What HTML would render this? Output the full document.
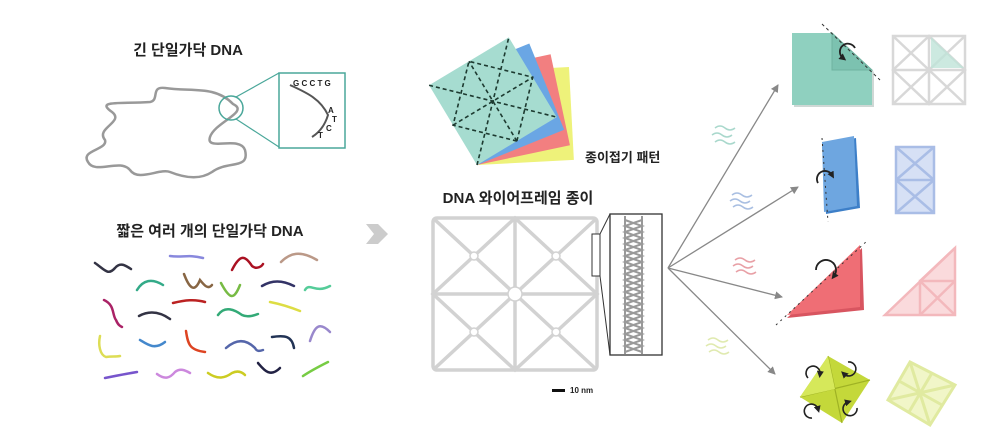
<!DOCTYPE html>
<html><head><meta charset="utf-8">
<style>
html,body{margin:0;padding:0;background:#fff;}
svg{display:block}
text{font-family:"Liberation Sans","Noto Sans CJK KR",sans-serif;font-weight:bold;fill:#222}
</style></head>
<body>
<svg width="1000" height="433" viewBox="0 0 1000 433" xmlns="http://www.w3.org/2000/svg">
<defs>
<marker id="ah" markerWidth="8" markerHeight="8" refX="7" refY="4" orient="auto" markerUnits="userSpaceOnUse">
<path d="M0,0 L8,4 L0,8 z" fill="#888"/></marker>
<marker id="bh" markerWidth="7" markerHeight="7" refX="3" refY="3.5" orient="auto" markerUnits="userSpaceOnUse">
<path d="M0,0 L7,3.5 L0,7 z" fill="#222"/></marker>
</defs>

<!-- Long ssDNA -->
<text x="188" y="55" font-size="15" text-anchor="middle">긴 단일가닥 DNA</text>
<path d="M233,104 C215,85 190,92 165,88 C150,86 160,100 150,102 C120,104 95,100 112,112 C125,122 95,128 105,140 C108,150 80,150 88,162 C95,175 120,158 130,170 C138,182 160,168 170,172 C185,178 200,180 212,172 C228,160 250,170 245,150 C240,135 205,152 210,137 C215,122 250,112 233,104 Z" fill="none" stroke="#999" stroke-width="2.5"/>
<circle cx="231" cy="108" r="12" fill="none" stroke="#4aa79a" stroke-width="1.5"/>
<line x1="236" y1="97" x2="279" y2="73" stroke="#4aa79a" stroke-width="1.2"/>
<line x1="236" y1="119" x2="279" y2="147" stroke="#4aa79a" stroke-width="1.2"/>
<rect x="279" y="73" width="66" height="75" fill="#fff" stroke="#4aa79a" stroke-width="1.5"/>
<path d="M290,85 C305,92 320,98 328,115 C325,125 320,132 312,137" fill="none" stroke="#555" stroke-width="2"/>
<text x="293" y="86" font-size="8" font-weight="normal">G C C T G</text>
<text x="328" y="113" font-size="8" font-weight="normal">A</text>
<text x="332" y="122" font-size="8" font-weight="normal">T</text>
<text x="326" y="131" font-size="8" font-weight="normal">C</text>
<text x="318" y="138" font-size="8" font-weight="normal">T</text>

<!-- short ssDNA -->
<text x="210" y="236" font-size="15" text-anchor="middle">짧은 여러 개의 단일가닥 DNA</text>
<g fill="none" stroke-width="2.5" stroke-linecap="round">
<path d="M95,263 C105,270 108,276 115,268 C120,262 125,265 131,269" stroke="#334"/>
<path d="M170,256 C182,258 188,254 203,258" stroke="#88d"/>
<path d="M232,270 C240,254 245,255 252,266 C257,270 262,266 263,264" stroke="#a12"/>
<path d="M281,262 C290,253 300,250 317,260" stroke="#b98"/>
<path d="M137,290 C143,280 152,278 163,285" stroke="#3a8"/>
<path d="M184,274 C190,290 195,292 200,280 C204,285 208,290 212,285" stroke="#864"/>
<path d="M221,283 C230,300 234,300 240,285" stroke="#7b4"/>
<path d="M262,286 C272,280 282,280 294,286" stroke="#336"/>
<path d="M305,290 C310,282 315,294 330,286" stroke="#5c9"/>
<path d="M104,300 C115,305 112,315 116,320 C118,325 120,326 122,327" stroke="#a26"/>
<path d="M139,316 C150,310 160,312 170,319" stroke="#334"/>
<path d="M173,303 C185,300 195,299 205,302" stroke="#b22"/>
<path d="M218,315 C225,305 235,310 242,315 C248,318 255,315 258,314" stroke="#3a7"/>
<path d="M270,302 C280,304 290,307 300,311" stroke="#dd4"/>
<path d="M100,336 C98,345 100,355 106,357 C112,356 115,357 120,356" stroke="#dd5"/>
<path d="M140,340 C148,345 155,350 165,342" stroke="#48c"/>
<path d="M186,331 C188,345 190,350 205,352" stroke="#d42"/>
<path d="M226,348 C235,340 245,338 255,348 C257,352 260,351 263,350" stroke="#56a"/>
<path d="M272,337 C285,335 292,336 294,348" stroke="#235"/>
<path d="M310,341 C315,325 320,322 330,332" stroke="#98c"/>
<path d="M105,378 C115,376 125,374 137,372" stroke="#75c"/>
<path d="M157,374 C165,380 170,378 175,372 C180,368 185,370 190,373" stroke="#c8d"/>
<path d="M208,373 C218,380 225,378 232,373 C238,370 242,372 245,375" stroke="#cc2"/>
<path d="M258,363 C264,370 270,378 280,368" stroke="#224"/>
<path d="M303,376 C312,370 320,366 328,362" stroke="#7c4"/>
</g>

<!-- big gray arrow -->
<path d="M366,224 L378,224 L388,234 L378,244 L366,244 L374,234 Z" fill="#ccc"/>

<!-- paper stack -->
<g transform="translate(477,165)">
 <g transform="rotate(-3)"><rect x="0" y="-93" width="97" height="93" fill="#eef27a"/></g>
 <g transform="rotate(-12)"><rect x="0" y="-93" width="95" height="93" fill="#f27f80"/></g>
 <g transform="rotate(-22)"><rect x="0" y="-93" width="94" height="93" fill="#6aa6e4"/></g>
 <g transform="rotate(-31)">
  <rect x="0" y="-93" width="93" height="93" fill="#a6dcd0"/>
  <g stroke="#1d3a30" stroke-width="1.6" stroke-dasharray="4,3" fill="none">
   <line x1="0" y1="0" x2="93" y2="-93"/><line x1="0" y1="-93" x2="93" y2="0"/>
   <line x1="46.5" y1="0" x2="46.5" y2="-93"/><line x1="0" y1="-46.5" x2="93" y2="-46.5"/>
   <path d="M46.5,0 L93,-46.5 L46.5,-93 L0,-46.5 Z"/>
  </g>
 </g>
</g>
<text x="585" y="162" font-size="13">종이접기 패턴</text>

<!-- wireframe -->
<text x="518" y="203" font-size="15" text-anchor="middle">DNA 와이어프레임 종이</text>
<g fill="none" stroke="#d2d2d2" stroke-width="3.5">
 <rect x="433" y="218" width="164" height="152" rx="4"/>
 <line x1="515" y1="218" x2="515" y2="370"/><line x1="433" y1="294" x2="597" y2="294"/>
 <path d="M433,218 L597,370 M597,218 L433,370"/>
 <path d="M515,218 L433,294 L515,370 L597,294 Z"/>
</g>
<g fill="#fff" stroke="#d2d2d2" stroke-width="1.5">
 <circle cx="515" cy="294" r="7"/><circle cx="474" cy="256" r="4"/><circle cx="556" cy="256" r="4"/>
 <circle cx="474" cy="332" r="4"/><circle cx="556" cy="332" r="4"/>
</g>
<rect x="592" y="234" width="8" height="42" fill="#fff" stroke="#333" stroke-width="1"/>
<line x1="600" y1="234" x2="610" y2="214" stroke="#333"/>
<line x1="600" y1="276" x2="610" y2="355" stroke="#333"/>
<rect x="610" y="214" width="52" height="141" fill="#fff" stroke="#333" stroke-width="1.3"/>
<g stroke="#999" stroke-width="2" fill="none">
<path d="M625,216 L625,354 M642,216 L642,354"/>
<path d="M625,220 l17,6 l-17,6 l17,6 l-17,6 l17,6 l-17,6 l17,6 l-17,6 l17,6 l-17,6 l17,6 l-17,6 l17,6 l-17,6 l17,6 l-17,6 l17,6 l-17,6 l17,6 l-17,6 l17,6 l-17,6"/>
<path d="M642,220 l-17,6 l17,6 l-17,6 l17,6 l-17,6 l17,6 l-17,6 l17,6 l-17,6 l17,6 l-17,6 l17,6 l-17,6 l17,6 l-17,6 l17,6 l-17,6 l17,6 l-17,6 l17,6 l-17,6 l17,6"/>
</g>
<rect x="552" y="389" width="13" height="3" fill="#111"/>
<text x="570" y="393" font-size="8" font-weight="normal">10 nm</text>

<!-- fan arrows -->
<g stroke="#888" stroke-width="1.3" marker-end="url(#ah)">
<line x1="668" y1="268" x2="778" y2="85"/>
<line x1="668" y1="268" x2="798" y2="187"/>
<line x1="668" y1="268" x2="782" y2="297"/>
<line x1="668" y1="268" x2="775" y2="374"/>
</g>
<g fill="none" stroke-width="1.5">
<path d="M715,128 q5,-4 10,0 t10,0 M712,135 q5,-4 10,0 t10,0 M715,142 q5,-4 10,0 t10,0" stroke="#a9d8cc"/>
<path d="M732,195 q5,-4 10,0 t10,0 M730,201 q5,-4 10,0 t10,0 M733,207 q5,-4 10,0 t10,0" stroke="#a9bfe2"/>
<path d="M735,260 q5,-4 10,0 t10,0 M733,266 q5,-4 10,0 t10,0 M736,272 q5,-4 10,0 t10,0" stroke="#e8a0a6"/>
<path d="M708,340 q5,-4 10,0 t10,0 M706,346 q5,-4 10,0 t10,0 M709,352 q5,-4 10,0 t10,0" stroke="#e0eab0"/>
</g>

<!-- teal folded -->
<path d="M794,35 L834,35 L874,72 L874,107 L794,107 Z" fill="#cfd8d5"/>
<path d="M792,33 L832,33 L872,70 L872,105 L792,105 Z" fill="#8fd0bf"/>
<path d="M832,33 L872,70 L832,70 Z" fill="#7cc2b0" stroke="#6fb3a0"/>
<line x1="822" y1="24" x2="880" y2="80" stroke="#333" stroke-dasharray="3,3"/>
<path d="M855,48 a8,8 0 1,0 -12,10" fill="none" stroke="#222" stroke-width="1.8" marker-end="url(#bh)"/>
<g fill="none" stroke="#d8d8d8" stroke-width="2.5">
<rect x="893" y="36" width="72" height="68"/>
<path d="M929,36 L929,104 M893,70 L965,70 M893,36 L965,104 M965,36 L893,104 M929,36 L893,70 L929,104 L965,70 Z"/>
</g>
<path d="M931,37 L964,68 L931,68 Z" fill="#bfe3d8" opacity="0.8"/>

<!-- blue -->
<path d="M822,144 L856,138 L860,208 L826,214 Z" fill="#3d7fc8"/>
<path d="M822,142 L854,136 L857,206 L824,212 Z" fill="#6ea6e0"/>
<line x1="822" y1="138" x2="828" y2="222" stroke="#333" stroke-dasharray="2,4"/>
<path d="M818,183 a8,8 0 1,1 14,-8" fill="none" stroke="#222" stroke-width="1.8" marker-end="url(#bh)"/>
<g fill="none" stroke="#a9bde6" stroke-width="2.5">
<rect x="896" y="147" width="38" height="66" fill="#d6e0f5"/>
<path d="M896,180 L934,180 M896,147 L934,180 M934,147 L896,180 M896,180 L934,213 M934,180 L896,213"/>
</g>

<!-- red -->
<path d="M787,318 L862,248 L864,310 Z" fill="#d85560"/>
<path d="M787,315 L860,245 L860,307 Z" fill="#ef6e75"/>
<line x1="776" y1="325" x2="868" y2="240" stroke="#333" stroke-dasharray="2,4"/>
<path d="M816,270 a10,10 0 1,1 18,6" fill="none" stroke="#222" stroke-width="1.8" marker-end="url(#bh)"/>
<g fill="none" stroke="#f3b8bc" stroke-width="2.5">
<path d="M885,315 L955,248 L955,315 Z" fill="#fadadc"/>
<path d="M920,315 L920,281 L955,281 M920,281 L955,315 M955,281 L920,315 M920,281 L955,248"/>
</g>

<!-- yellow -->
<path d="M828,356 L870,380 L842,423 L800,397 Z" fill="#c4d83a"/>
<path d="M828,356 L842,423 M800,397 L870,380" stroke="#9fb224" stroke-width="1.2"/>
<path d="M828,356 L835,389 L800,397 Z" fill="#d6e85a"/>
<g fill="none" stroke="#222" stroke-width="1.6" marker-end="url(#bh)">
<path d="M808,378 a7,7 0 1,1 12,-4"/>
<path d="M848,362 a7,7 0 1,1 -4,12"/>
<path d="M812,418 a7,7 0 1,1 6,-9"/>
<path d="M857,408 a7,7 0 1,1 -9,-6"/>
</g>
<g fill="none" stroke="#e0eaa0" stroke-width="3">
<path d="M910,362 L955,385 L930,425 L888,400 Z" fill="#f1f6c8"/>
<path d="M910,362 L930,425 M888,400 L955,385 M899,381 L942,405 M932,373 L909,412"/>
</g>
</svg>
</body></html>
